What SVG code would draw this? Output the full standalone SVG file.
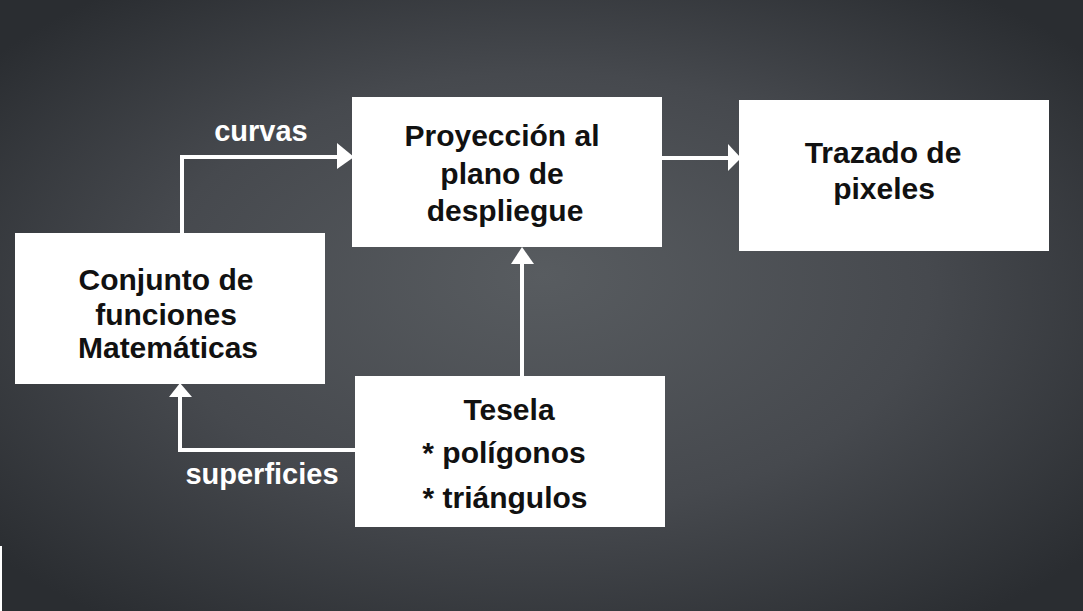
<svg xmlns="http://www.w3.org/2000/svg" width="1083" height="611" viewBox="0 0 1083 611">
<defs>
<radialGradient id="bg" cx="50%" cy="50%" r="65%" fx="50%" fy="45%">
<stop offset="0" stop-color="#585c60"/>
<stop offset="0.55" stop-color="#46494e"/>
<stop offset="1" stop-color="#2a2d31"/>
</radialGradient>
<style>
.box{fill:#ffffff}
.t{font-family:"Liberation Sans",Arial,sans-serif;font-weight:bold;font-size:30px;fill:#111111;text-anchor:middle}
.lbl{font-family:"Liberation Sans",Arial,sans-serif;font-weight:bold;font-size:29px;fill:#ffffff;text-anchor:middle}
.ln{fill:none;stroke:#ffffff;stroke-width:4}
.ah{fill:#ffffff}
</style>
</defs>
<rect x="0" y="0" width="1083" height="611" fill="url(#bg)"/>
<rect x="0" y="546" width="2" height="65" fill="#ffffff"/>
<g id="connectors">
<path class="ln" d="M182 233 V157 H340"/>
<polygon class="ah" points="337,143 354,157 337,169"/>
<path class="ln" d="M662 158 H730"/>
<polygon class="ah" points="728,144 741,158 728,171"/>
<path class="ln" d="M522 376 V262"/>
<polygon class="ah" points="511,264 522,247 534,264"/>
<path class="ln" d="M355 450 H180 V395"/>
<polygon class="ah" points="169,397 180,383 192,397"/>
<text class="lbl" x="261" y="141">curvas</text>
<text class="lbl" x="262" y="484">superficies</text>
</g>
<g id="conjunto">
<rect class="box" x="15" y="233" width="310" height="151"/>
<text class="t" x="166" y="290">Conjunto de</text>
<text class="t" x="166" y="325">funciones</text>
<text class="t" x="168" y="358">Matemáticas</text>
</g>
<g id="proyeccion">
<rect class="box" x="352" y="97" width="310" height="150"/>
<text class="t" x="502" y="146">Proyección al</text>
<text class="t" x="502" y="184">plano de</text>
<text class="t" x="505" y="221">despliegue</text>
</g>
<g id="trazado">
<rect class="box" x="739" y="100" width="310" height="151"/>
<text class="t" x="883" y="163">Trazado de</text>
<text class="t" x="884" y="199">pixeles</text>
</g>
<g id="tesela">
<rect class="box" x="355" y="376" width="310" height="151"/>
<text class="t" x="509" y="420">Tesela</text>
<text class="t" x="504" y="463">* polígonos</text>
<text class="t" x="505" y="508">* triángulos</text>
</g>
</svg>
